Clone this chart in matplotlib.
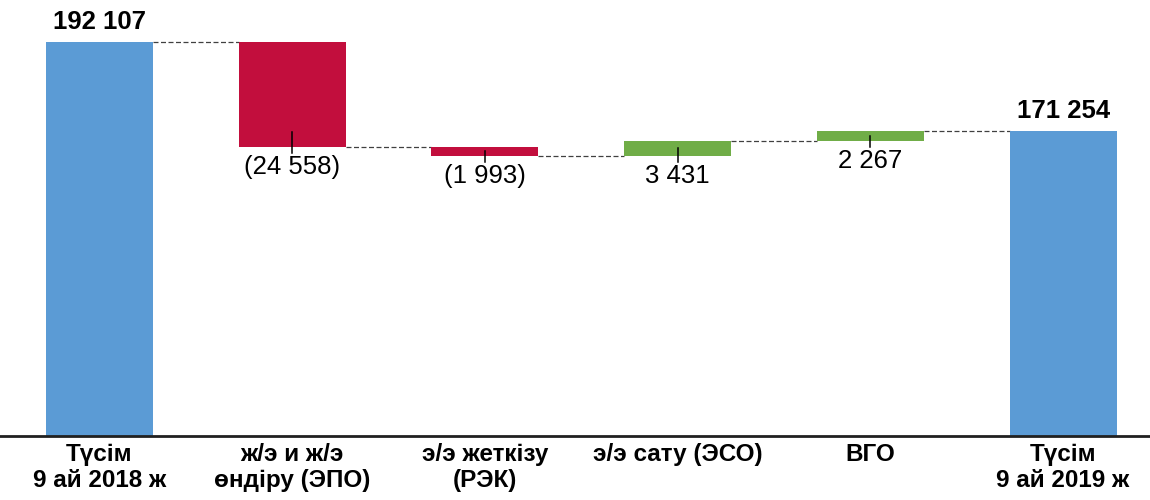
import matplotlib
matplotlib.use('Agg')
import matplotlib.pyplot as plt

plt.rcParams['font.family'] = ['Liberation Sans', 'DejaVu Sans']

# data
categories = ['Түсім\n9 ай 2018 ж', 'ж/э и ж/э\nөндіру (ЭПО)', 'э/э жеткізу\n(РЭК)',
              'э/э сату (ЭСО)', 'ВГО', 'Түсім\n9 ай 2019 ж']
values = [192107, -24558, -1993, 3431, 2267, 171254]
is_total = [True, False, False, False, False, True]
labels = ['192 107', '(24 558)', '(1 993)', '3 431', '2 267', '171 254']

blue = '#5B9BD5'
red = '#C20E3D'
green = '#70AD47'
ymin = 100000

fig = plt.figure(figsize=(11.5, 5), dpi=100)
ax = fig.add_axes([0, 0.128, 1, 0.872])
ax.set_xlim(-0.516, 5.451)
ax.set_ylim(ymin, 201900)
width = 0.555
scale = 0.004278  # px per unit

level = 0
bounds = []
for i, v in enumerate(values):
    if is_total[i]:
        bottom, top = ymin, v
        color = blue
        level = v
    else:
        start = level
        level = level + v
        bottom, top = min(start, level), max(start, level)
        color = red if v < 0 else green
    ax.bar(i, top - bottom, bottom=bottom, width=width, color=color, zorder=2)
    bounds.append((bottom, top, level))

# connectors
for i in range(len(values) - 1):
    y = bounds[i][2]
    ax.plot([i + width / 2, i + 1 - width / 2], [y, y], color='#404040',
            lw=0.9, ls=(0, (4, 2)), zorder=1)

# value labels
px = 0.72
for i, v in enumerate(values):
    bottom, top, _ = bounds[i]
    if is_total[i]:
        ax.annotate(labels[i], (i, top), xytext=(0, 8 * px), textcoords='offset points',
                    ha='center', va='bottom', fontsize=18.5, fontweight='bold')
    else:
        # leader line from inside the bar down to the label
        h_px = (top - bottom) * scale
        up = min(15, h_px / 2)
        ax.plot([i, i], [bottom + up / scale, bottom - 6.5 / scale],
                color='black', lw=1.1, zorder=3)
        ax.annotate(labels[i], (i, bottom), xytext=(0, -8 * px), textcoords='offset points',
                    ha='center', va='top', fontsize=18.5)

for s in ['top', 'right', 'left']:
    ax.spines[s].set_visible(False)
ax.spines['bottom'].set_linewidth(2)
ax.spines['bottom'].set_color('#202020')
ax.set_yticks([])
ax.set_xticks([])

for i, c in enumerate(categories):
    ax.annotate(c, (i, ymin), xytext=(0, -7 * px), textcoords='offset points',
                ha='center', va='top', fontsize=17.5, fontweight='bold',
                linespacing=1.15, annotation_clip=False)

fig.savefig('out.png', dpi=100)
